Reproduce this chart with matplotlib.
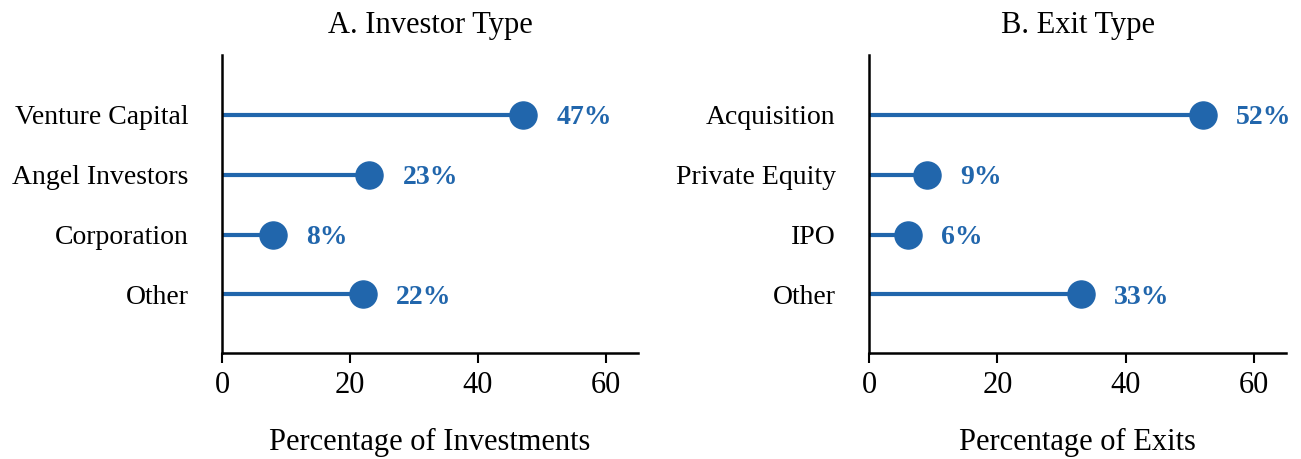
import matplotlib
matplotlib.use('Agg')
import matplotlib.pyplot as plt

plt.rcParams['font.family'] = ['Liberation Serif', 'DejaVu Serif']

investor_types = ['Venture Capital', 'Angel Investors', 'Corporation', 'Other']
investor_pct = [47, 23, 8, 22]
exit_types = ['Acquisition', 'Private Equity', 'IPO', 'Other']
exit_pct = [52, 9, 6, 33]

color = '#2166ac'

fig = plt.figure(figsize=(13.01, 4.59), dpi=100)
ax1 = fig.add_axes([0.1706, 0.231, 0.3198, 0.649])
ax2 = fig.add_axes([0.668, 0.231, 0.3205, 0.649])


def lollipop(ax, cats, vals, title, xlabel):
    ys = list(range(len(cats)))
    ax.hlines(ys, 0, vals, color=color, linewidth=3)
    ax.plot(vals, ys, 'o', color=color, markersize=19.5, zorder=3)
    for v, y in zip(vals, ys):
        ax.annotate('%d%%' % v, (v, y), xytext=(24, 0), textcoords='offset points',
                    va='center_baseline', ha='left', fontsize=20, fontweight='bold', color=color)
    ax.set_yticks(ys)
    ax.set_yticklabels(cats, fontsize=20)
    ax.set_xlim(0, 65)
    ax.set_ylim(3.98, -1)
    ax.set_xticks([0, 20, 40, 60])
    ax.tick_params(axis='x', labelsize=22, length=7, width=1.5, pad=6)
    ax.tick_params(axis='y', length=0, pad=24)
    for s in ['top', 'right']:
        ax.spines[s].set_visible(False)
    for s in ['left', 'bottom']:
        ax.spines[s].set_linewidth(1.8)
    ax.set_title(title, fontsize=22, pad=16)
    ax.set_xlabel(xlabel, fontsize=22, labelpad=20)


lollipop(ax1, investor_types, investor_pct, 'A. Investor Type', 'Percentage of Investments')
lollipop(ax2, exit_types, exit_pct, 'B. Exit Type', 'Percentage of Exits')

fig.savefig('out.png', dpi=100)
